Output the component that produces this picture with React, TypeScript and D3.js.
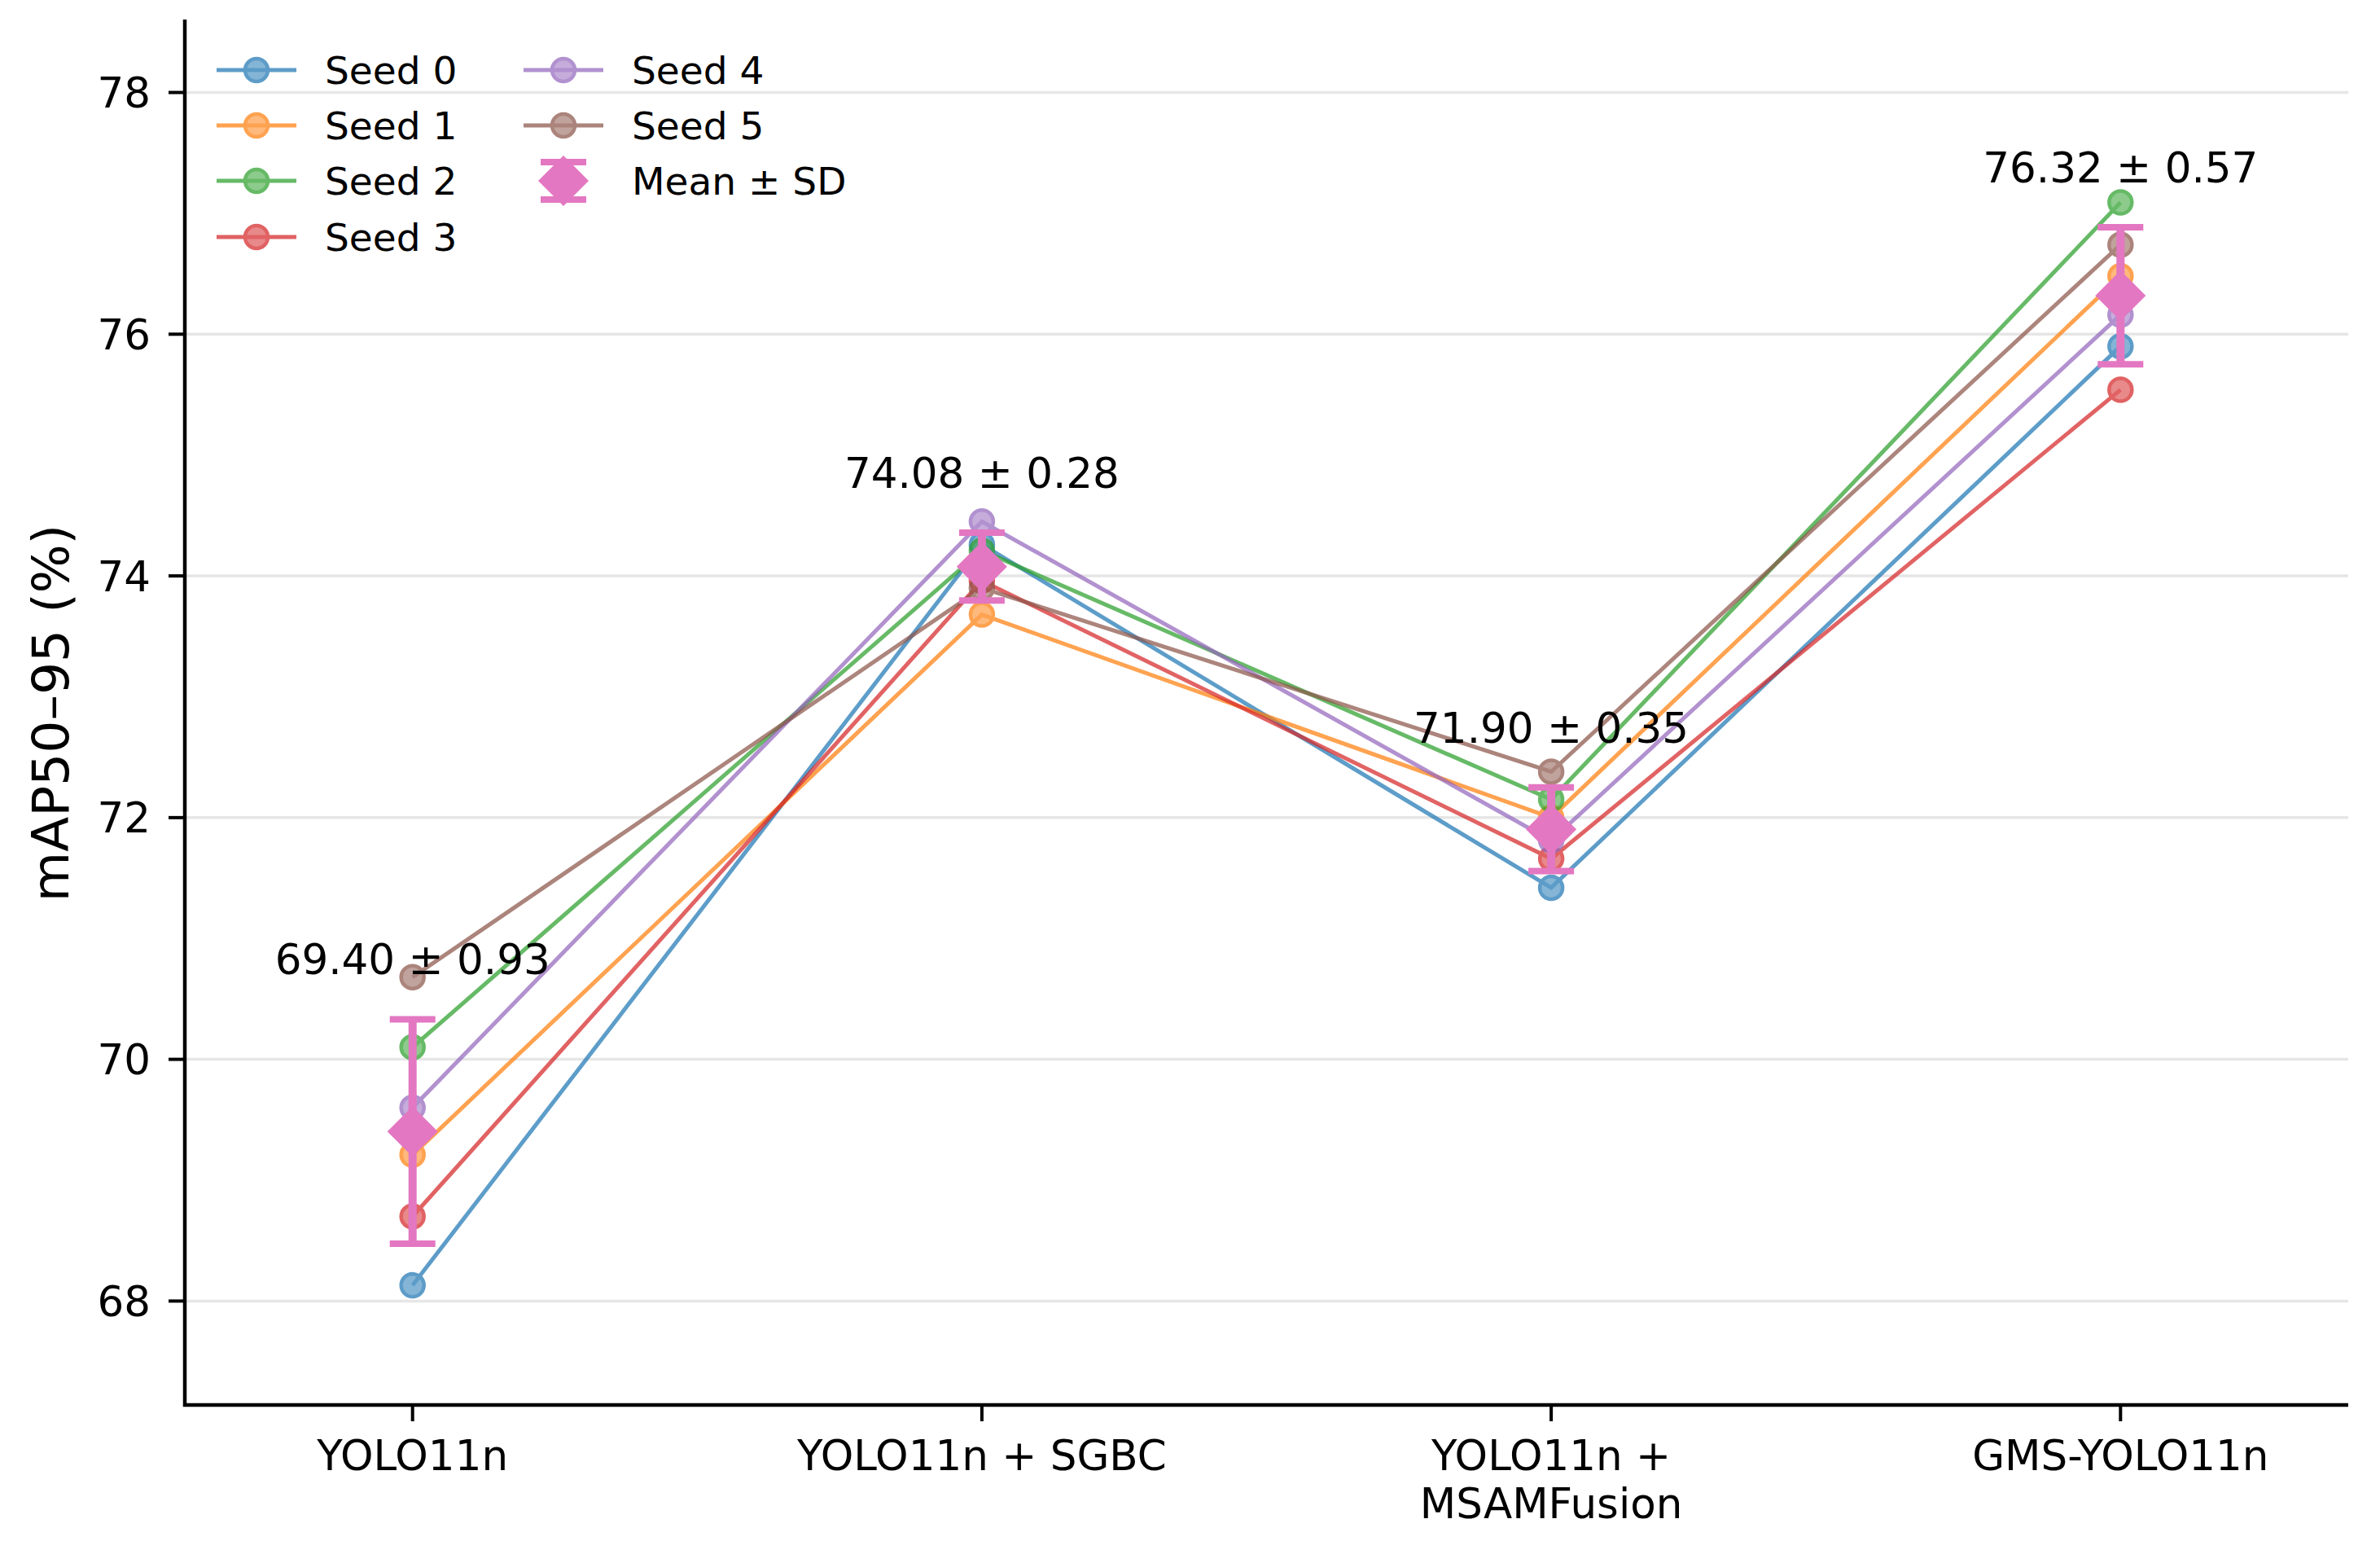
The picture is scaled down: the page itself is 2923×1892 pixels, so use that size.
import React from 'react';
import * as d3 from 'd3';

const W = 2923;
const H = 1892;

// categories on the x axis ("\n" = line break in tick label)
const categories = ['YOLO11n', 'YOLO11n + SGBC', 'YOLO11n +\nMSAMFusion', 'GMS-YOLO11n'];

// mAP50-95 per seed, one value per category
const seed0 = [68.13, 74.26, 71.42, 75.90];
const seed1 = [69.21, 73.68, 72.00, 76.48];
const seed2 = [70.10, 74.21, 72.15, 77.09];
const seed3 = [68.70, 73.96, 71.66, 75.54];
const seed4 = [69.60, 74.45, 71.81, 76.16];
const seed5 = [70.68, 73.90, 72.38, 76.74];

const seedNames = ['Seed 0', 'Seed 1', 'Seed 2', 'Seed 3', 'Seed 4', 'Seed 5'];
const seedColors = ['#1f77b4', '#ff7f0e', '#2ca02c', '#d62728', '#9467bd', '#8c564b'];
const meanColor = '#e377c2';

const yTicks = [68, 70, 72, 74, 76, 78];
const yLabel = 'mAP50–95 (%)';

const FONT = '"DejaVu Sans", Verdana, sans-serif';

const App: React.FC = () => {
  const seeds = [seed0, seed1, seed2, seed3, seed4, seed5];

  const margin = { left: 227, right: W - 2884, top: 24, bottom: H - 1725 };

  const x = d3.scalePoint<string>()
    .domain(categories)
    .range([margin.left, W - margin.right])
    .padding(0.4);

  const y = d3.scaleLinear()
    .domain([67.14, 78.59])
    .range([1725, 26]);

  const line = d3.line<number>()
    .x((_, i) => x(categories[i])!)
    .y(d => y(d));

  const stats = categories.map((_, i) => {
    const vals = seeds.map(s => s[i]);
    return { mean: d3.mean(vals)!, sd: d3.deviation(vals)! };
  });

  const diamond = (cx: number, cy: number, r: number) =>
    `M${cx},${cy - r}L${cx + r},${cy}L${cx},${cy + r}L${cx - r},${cy}Z`;

  // legend layout
  const legRows = [86, 154, 222, 291];
  const legCols = [315, 692];
  const legendItems = [
    ...seedNames.map((n, i) => ({ name: n, color: seedColors[i], col: i < 4 ? 0 : 1, row: i < 4 ? i : i - 4, mean: false })),
    { name: 'Mean ± SD', color: meanColor, col: 1, row: 2, mean: true },
  ];

  return (
    <svg width={W} height={H} style={{ position: 'absolute', left: 0, top: 0, background: '#fff' }}
      fontFamily={FONT}>
      <rect width={W} height={H} fill="#fff" />

      {/* grid */}
      {yTicks.map(t => (
        <line key={t} x1={margin.left} x2={W - margin.right} y1={y(t)} y2={y(t)}
          stroke="#e6e6e6" strokeWidth={3.5} />
      ))}

      {/* seed lines */}
      {seeds.map((s, si) => (
        <g key={si} opacity={0.72}>
          <path d={line(s)!} fill="none" stroke={seedColors[si]} strokeWidth={5} />
          {s.map((v, i) => (
            <circle key={i} cx={x(categories[i])} cy={y(v)} r={14}
              fill={seedColors[si]} fillOpacity={0.75} stroke={seedColors[si]} strokeWidth={4.5} />
          ))}
        </g>
      ))}

      {/* mean ± sd */}
      {stats.map((st, i) => {
        const cx = x(categories[i])!;
        const top = y(st.mean + st.sd);
        const bot = y(st.mean - st.sd);
        return (
          <g key={i}>
            <line x1={cx} x2={cx} y1={top} y2={bot} stroke={meanColor} strokeWidth={10} />
            <line x1={cx - 28} x2={cx + 28} y1={top} y2={top} stroke={meanColor} strokeWidth={8} />
            <line x1={cx - 28} x2={cx + 28} y1={bot} y2={bot} stroke={meanColor} strokeWidth={8} />
            <path d={diamond(cx, y(st.mean), 31)} fill={meanColor} />
            <text x={cx} y={top - 55} textAnchor="middle" fontSize={51.5} fill="#000">
              {`${st.mean.toFixed(2)} ± ${st.sd.toFixed(2)}`}
            </text>
          </g>
        );
      })}

      {/* axes */}
      <line x1={margin.left} x2={margin.left} y1={margin.top} y2={H - margin.bottom + 2}
        stroke="#000" strokeWidth={4.5} />
      <line x1={margin.left - 2} x2={W - margin.right} y1={H - margin.bottom} y2={H - margin.bottom}
        stroke="#000" strokeWidth={4.5} />

      {yTicks.map(t => (
        <g key={t}>
          <line x1={margin.left - 20} x2={margin.left} y1={y(t)} y2={y(t)} stroke="#000" strokeWidth={4} />
          <text x={margin.left - 42} y={y(t) + 18.5} textAnchor="end" fontSize={51.5} fill="#000">{t}</text>
        </g>
      ))}

      {categories.map(c => {
        const cx = x(c)!;
        const lines = c.split('\n');
        return (
          <g key={c}>
            <line x1={cx} x2={cx} y1={H - margin.bottom} y2={H - margin.bottom + 20} stroke="#000" strokeWidth={4} />
            {lines.map((l, li) => (
              <text key={li} x={cx} y={1805 + li * 59} textAnchor="middle" fontSize={51.5} fill="#000">{l}</text>
            ))}
          </g>
        );
      })}

      <text transform={`translate(84,${(y(78.59) + y(67.14)) / 2}) rotate(-90)`} textAnchor="middle"
        fontSize={63} fill="#000">{yLabel}</text>

      {/* legend */}
      {legendItems.map(it => {
        const cx = legCols[it.col];
        const cy = legRows[it.row];
        return (
          <g key={it.name}>
            {it.mean ? (
              <g>
                <line x1={cx} x2={cx} y1={cy - 24} y2={cy + 24} stroke={meanColor} strokeWidth={10} />
                <line x1={cx - 28} x2={cx + 28} y1={cy - 23} y2={cy - 23} stroke={meanColor} strokeWidth={8} />
                <line x1={cx - 28} x2={cx + 28} y1={cy + 23} y2={cy + 23} stroke={meanColor} strokeWidth={8} />
                <path d={diamond(cx, cy, 31)} fill={meanColor} />
              </g>
            ) : (
              <g opacity={0.72}>
                <line x1={cx - 49} x2={cx + 49} y1={cy} y2={cy} stroke={it.color} strokeWidth={5} />
                <circle cx={cx} cy={cy} r={14} fill={it.color} fillOpacity={0.75} stroke={it.color} strokeWidth={4.5} />
              </g>
            )}
            <text x={cx + 84} y={cy + 17} fontSize={47} fill="#000">{it.name}</text>
          </g>
        );
      })}
    </svg>
  );
};

export default App;
